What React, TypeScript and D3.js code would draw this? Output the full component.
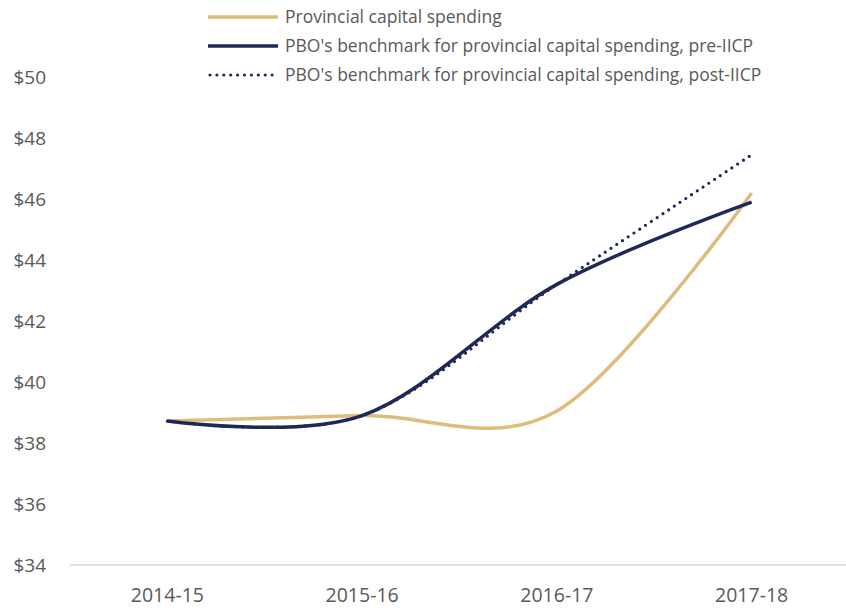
import React from "react";
import * as d3 from "d3";

const categories = ["2014-15", "2015-16", "2016-17", "2017-18"];
const provincial = [38.72, 38.9, 39.05, 46.2];
const preIICP = [38.72, 38.9, 43.2, 45.9];
const postIICP = [38.72, 38.9, 43.2, 47.45];
const yTicks = [34, 36, 38, 40, 42, 44, 46, 48, 50];
const legendLabels = [
  "Provincial capital spending",
  "PBO's benchmark for provincial capital spending, pre-IICP",
  "PBO's benchmark for provincial capital spending, post-IICP",
];

const W = 846;
const H = 608;
const GOLD = "#DDBD7C";
const NAVY = "#1F2857";
const TEXT = "#595959";
const FONT = "'Open Sans', 'Noto Sans', sans-serif";

export default function App() {
  const x = d3.scaleBand<string>().domain(categories).range([70, 849]);
  const cx = (c: string) => (x(c) as number) + x.bandwidth() / 2;
  const y = d3.scaleLinear().domain([34, 50]).range([565, 77]);
  const line = d3
    .line<number>()
    .x((_, i) => cx(categories[i]))
    .y((d) => y(d))
    .curve(d3.curveCardinal.tension(0));

  const series = [
    { data: provincial, color: GOLD, dash: undefined as string | undefined, width: 3.5, cap: "butt" },
    { data: preIICP, color: NAVY, dash: undefined, width: 3.5, cap: "butt" },
    { data: postIICP, color: NAVY, dash: "0 6.9", width: 3.2, cap: "round" },
  ];

  return (
    <svg
      width={W}
      height={H}
      style={{ position: "absolute", left: 0, top: 0, background: "#fff" }}
    >
      {yTicks.map((t) => (
        <text
          key={t}
          x={46}
          y={y(t)}
          dy="0.35em"
          textAnchor="end"
          fontFamily={FONT}
          fontSize={19}
          fill={TEXT}
        >
          {"$" + t}
        </text>
      ))}
      <line x1={70} x2={846} y1={y(34)} y2={y(34)} stroke="#D9D9D9" strokeWidth={1.5} />
      {categories.map((c) => (
        <text
          key={c}
          x={cx(c)}
          y={595}
          dy="0.35em"
          textAnchor="middle"
          fontFamily={FONT}
          fontSize={19.5}
          fill={TEXT}
        >
          {c}
        </text>
      ))}
      {series.map((s, i) => (
        <path
          key={i}
          d={line(s.data) as string}
          fill="none"
          stroke={s.color}
          strokeWidth={s.width}
          strokeDasharray={s.dash}
          strokeLinecap={s.cap as any}
        />
      ))}
      {series.map((s, i) => (
        <g key={"lg" + i} transform={`translate(0, ${17 + i * 29})`}>
          <line
            x1={s.dash ? 210 : 208}
            x2={278}
            y1={0}
            y2={0}
            stroke={s.color}
            strokeWidth={s.width}
            strokeDasharray={s.dash}
            strokeLinecap={s.cap as any}
          />
          <text x={285} y={0} dy="0.35em" fontFamily={FONT} fontSize={17.5} fill={TEXT}>
            {legendLabels[i]}
          </text>
        </g>
      ))}
    </svg>
  );
}
